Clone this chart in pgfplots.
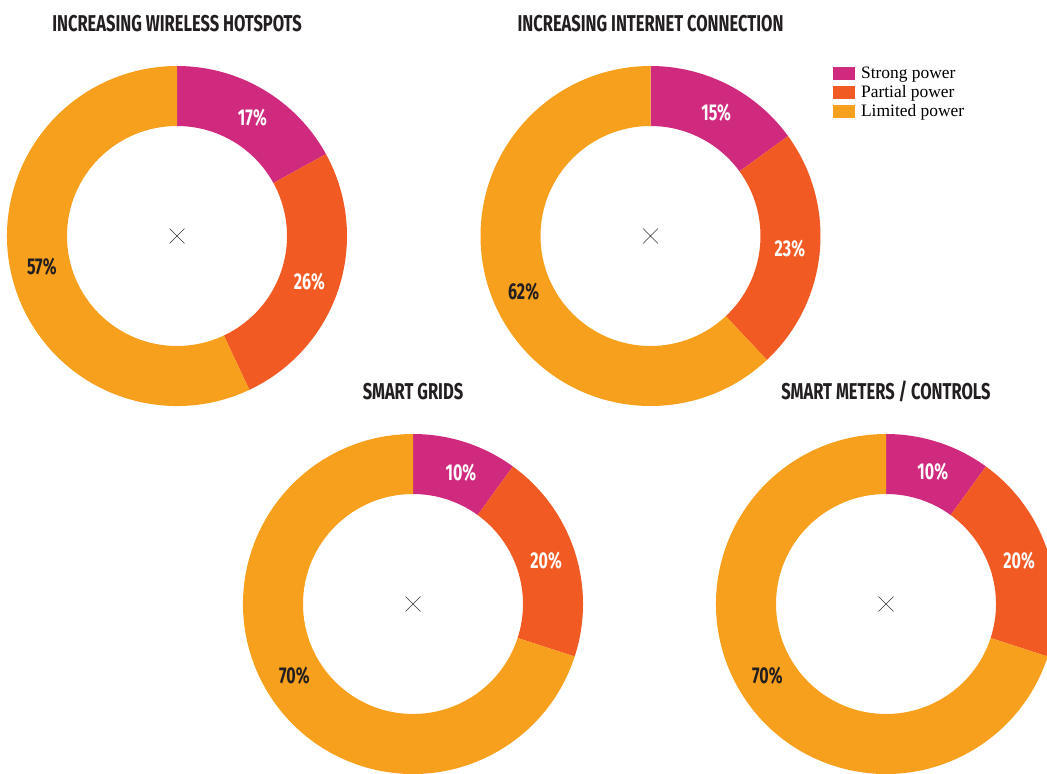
\documentclass[border=0pt]{standalone}
\usepackage{pgfplots}
\pgfplotsset{compat=1.18}
\usepackage{fontspec}
\newfontfamily\condfont[FakeStretch=0.7]{Fira Sans}
\newfontfamily\titlecond[FakeStretch=0.72]{Fira Sans}
\newfontfamily\legserif{Liberation Serif}
\newcommand\titlefont{\titlecond\bfseries\fontsize{23}{26}\selectfont}
\newcommand\pctfont{\condfont\bfseries\fontsize{23}{26}\selectfont}
\definecolor{cstrong}{HTML}{D02A7E}
\definecolor{cpartial}{HTML}{F15A22}
\definecolor{climited}{HTML}{F7A01D}
\definecolor{cdark}{HTML}{231F20}
\def\rin{110bp}
\def\rout{170bp}
\def\rw{60bp}
% slice: #1 start pct, #2 value, #3 fill colour, #4 text colour, #5 label angle shift, #6 label radius
\newcommand\donutslice[6]{%
  \pgfmathsetmacro\aone{90-3.6*(#1)}%
  \pgfmathsetmacro\atwo{90-3.6*((#1)+(#2))}%
  \pgfmathsetmacro\amid{(\aone+\atwo)/2+(#5)}%
  \pgfmathsetmacro\aback{\atwo+180}%
  \edef\temp{\noexpand\fill[#3] (axis cs:0,0) ++(\aone:\rin) -- ++(\aone:\rw) arc[start angle=\aone,end angle=\atwo,radius=\rout] -- ++(\aback:\rw) arc[start angle=\atwo,end angle=\aone,radius=\rin] -- cycle;}%
  \temp
  \edef\temp{\noexpand\path (axis cs:0,0) ++(\amid:#6bp) node[text=#4,font=\noexpand\pctfont,inner sep=0pt]{#2\noexpand\%};}%
  \temp
}
% donut: [#1 extra], #2 cx, #3 cy (px from top-left), #4 strong, #5 partial, #6 limited, #7 title, #8 shifts strong/partial, #9 shift limited
\newcommand\donut[9][]{%
\begin{axis}[at={(#2bp,-#3bp)}, anchor=center, hide axis, x=1bp, y=1bp,
  xmin=-170, xmax=170, ymin=-170, ymax=170, clip=false,
  legend style={at={(axis cs:179,174)}, anchor=north west, draw=none, fill=none,
    font=\legserif\fontsize{17.5}{19}\selectfont, cells={anchor=west},
    nodes={inner sep=1bp, text height=13bp, text depth=4bp},
    row sep=0pt, /tikz/every odd column/.append style={column sep=6bp}},
  legend image code/.code={\fill[##1] (0bp,-6bp) rectangle (21bp,6bp);}]
  \addplot[forget plot, only marks, mark=x, mark size=10.5bp, black!80, line width=0.5pt] coordinates {(0,0)};
  \pgfmathsetmacro\sB{#4}%
  \pgfmathsetmacro\sC{#4+#5}%
  \def\shifts{#8}%
  \expandafter\getshifts\shifts\relax
  \donutslice{0}{#4}{cstrong}{white}{\shA}{140}
  \donutslice{\sB}{#5}{cpartial}{white}{\shB}{140}
  \donutslice{\sC}{#6}{climited}{cdark}{#9}{138.5}
  \node[font=\titlefont, text=cdark, anchor=base, inner sep=0pt] at (axis cs:0,205) {#7};
  #1
\end{axis}}
\def\getshifts#1/#2\relax{\def\shA{#1}\def\shB{#2}}
\begin{document}
\begin{tikzpicture}
\path[use as bounding box] (0,0) rectangle (1047bp,-774bp);
\clip (0,0) rectangle (1047bp,-774bp);
\donut{177}{236}{17}{26}{57}{INCREASING WIRELESS HOTSPOTS}{-2/-1}{0}
\donut[%
  \addlegendimage{cstrong}
  \addlegendimage{cpartial}
  \addlegendimage{climited}
  \legend{Strong power, Partial power, Limited power}]{650.5}{236}{15}{23}{62}{INCREASING INTERNET CONNECTION}{-1/0}{2}
\donut{413}{604}{10}{20}{70}{SMART GRIDS}{-2/0}{-5}
\donut{886}{604}{10}{20}{70}{SMART METERS / CONTROLS}{-1.5/0}{-5}
\end{tikzpicture}
\end{document}
